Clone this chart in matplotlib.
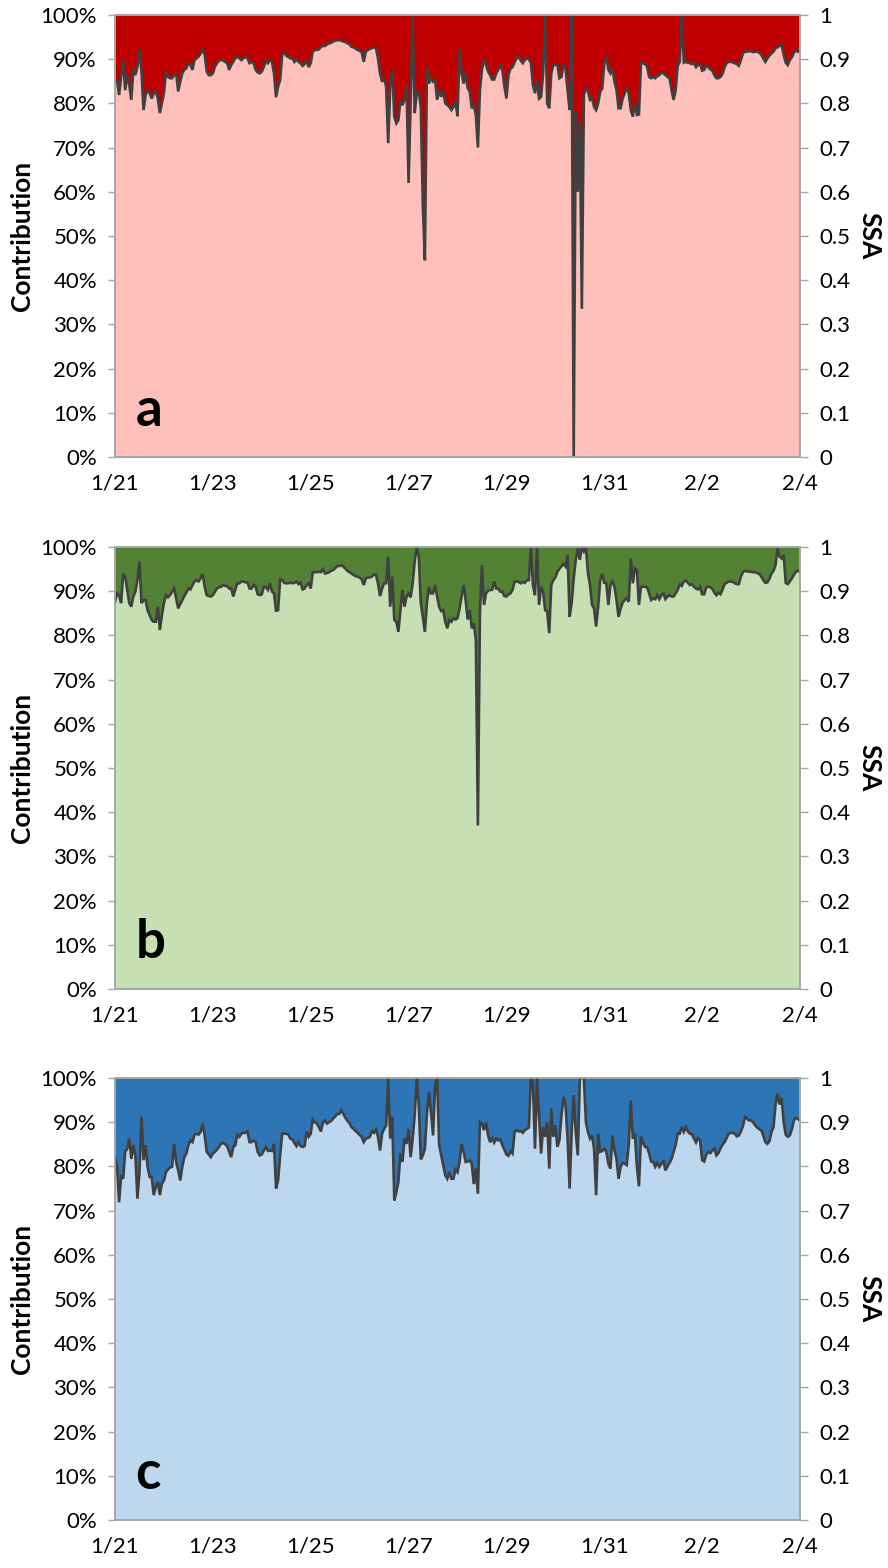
import numpy as np
import matplotlib
matplotlib.use("Agg")
import matplotlib.pyplot as plt
from matplotlib.ticker import PercentFormatter, FixedLocator

# Hourly SSA values from 1/21 00:00 to 2/4 00:00 (one row per day)
ssa_a = [
    .849, .853, .819, .860, .898, .830, .864, .842, .808, .876, .864, .883, .921, .872, .785, .819, .830, .823, .811, .823, .827, .811, .778, .800,
    .823, .872, .860, .857, .857, .864, .868, .827, .849, .868, .876, .879, .891, .887, .876, .898, .902, .906, .913, .922, .910, .872, .864, .864,
    .868, .883, .891, .897, .898, .898, .894, .891, .876, .887, .894, .902, .906, .902, .898, .902, .906, .902, .891, .894, .891, .876, .870, .868,
    .872, .883, .897, .891, .898, .894, .868, .814, .838, .853, .910, .915, .908, .905, .902, .902, .894, .900, .894, .891, .885, .889, .898, .882,
    .891, .917, .921, .921, .922, .928, .930, .930, .934, .936, .937, .940, .942, .943, .943, .942, .940, .939, .936, .934, .928, .927, .924, .921,
    .919, .916, .894, .917, .921, .923, .925, .927, .925, .902, .868, .849, .857, .838, .710, .838, .876, .770, .755, .762, .808, .796, .808, .842,
    .620, .800, 1.00, .778, .823, .827, .792, .570, .445, .879, .845, .857, .849, .853, .808, .830, .815, .827, .800, .796, .792, .785, .792, .804,
    .771, .921, .868, .845, .868, .834, .827, .789, .796, .774, .700, .830, .876, .900, .887, .872, .864, .854, .854, .868, .876, .885, .876, .839,
    .811, .864, .879, .882, .893, .902, .906, .897, .891, .898, .902, .900, .892, .842, .823, .853, .811, .815, .868, 1.00, .800, .789, .868, .887,
    .887, .887, .857, .860, .887, .879, .830, .785, 1.00, 0.00, .780, .600, .760, .335, .820, .834, .827, .808, .811, .792, .785, .800, .827, .834,
    .891, .906, .876, .868, .879, .849, .830, .789, .789, .811, .823, .836, .823, .785, .770, .800, .774, .775, .891, .891, .889, .883, .860, .857,
    .860, .857, .862, .864, .870, .868, .864, .860, .857, .830, .808, .830, .885, .894, 1.00, .892, .894, .892, .891, .889, .891, .882, .887, .889,
    .874, .876, .885, .882, .877, .874, .864, .857, .857, .860, .867, .882, .891, .894, .894, .893, .891, .889, .885, .898, .913, .917, .917, .918,
    .918, .916, .917, .917, .915, .910, .902, .894, .902, .908, .913, .917, .925, .927, .930, .932, .910, .892, .887, .898, .904, .915, .919, .917,
    .919,
]

ssa_b = [
    .876, .895, .891, .873, .940, .933, .903, .873, .865, .888, .899, .925, .967, .873, .880, .880, .857, .846, .835, .831, .831, .865, .812, .846,
    .873, .891, .886, .891, .899, .906, .884, .861, .871, .880, .889, .897, .906, .904, .914, .922, .925, .922, .929, .939, .910, .891, .889, .888,
    .891, .899, .906, .909, .910, .914, .912, .912, .906, .906, .888, .904, .918, .918, .922, .922, .920, .920, .906, .906, .914, .910, .893, .891,
    .893, .910, .909, .903, .918, .899, .895, .856, .857, .927, .925, .919, .918, .918, .919, .918, .919, .922, .916, .920, .904, .906, .914, .918,
    .906, .943, .943, .943, .944, .943, .950, .940, .941, .943, .946, .948, .952, .957, .957, .959, .956, .951, .946, .943, .940, .937, .934, .933,
    .931, .927, .914, .929, .931, .931, .933, .938, .937, .918, .889, .906, .918, .918, .978, .865, .933, .835, .831, .808, .857, .903, .865, .888,
    .895, .886, .918, .967, 1.00, .978, .873, .842, .808, .873, .910, .895, .895, .914, .888, .865, .855, .857, .831, .816, .835, .831, .839, .836,
    .839, .861, .888, .914, .880, .836, .857, .816, .827, .790, .370, .850, .959, .869, .895, .901, .903, .903, .922, .906, .906, .899, .899, .889,
    .888, .893, .895, .903, .922, .922, .921, .918, .921, .919, .925, .925, 1.00, .914, .891, 1.00, .869, .910, .899, .857, .854, .805, .914, .925,
    .931, .944, .951, .956, .962, .956, .982, .842, .873, .929, .971, .997, .971, 1.00, .990, 1.00, .940, .914, .869, .861, .820, .865, .925, .940,
    .919, .918, .869, .914, .922, .910, .880, .842, .861, .874, .880, .884, .876, .974, .918, .952, .948, .869, .910, .910, .910, .909, .895, .880,
    .884, .882, .891, .882, .891, .895, .882, .888, .891, .888, .888, .895, .903, .916, .912, .922, .924, .919, .914, .916, .910, .906, .904, .910,
    .893, .893, .909, .910, .909, .905, .897, .891, .897, .893, .904, .916, .919, .922, .922, .921, .918, .916, .916, .933, .943, .946, .945, .944,
    .944, .943, .943, .941, .939, .933, .925, .919, .920, .928, .940, .946, .959, .997, .978, .974, .982, .919, .916, .922, .929, .937, .944, .946,
    .944,
]

ssa_c = [
    .821, .802, .719, .780, .772, .833, .840, .863, .817, .848, .825, .727, .787, .912, .814, .848, .799, .776, .776, .735, .753, .765, .735, .761,
    .768, .787, .793, .798, .799, .851, .810, .791, .768, .799, .821, .829, .848, .859, .855, .872, .874, .872, .878, .897, .870, .833, .827, .821,
    .829, .833, .838, .844, .851, .854, .850, .846, .833, .821, .844, .848, .872, .867, .874, .876, .876, .879, .855, .855, .859, .855, .833, .825,
    .827, .836, .844, .835, .836, .835, .851, .750, .768, .825, .874, .874, .874, .872, .863, .861, .853, .846, .855, .846, .844, .846, .879, .867,
    .874, .906, .900, .897, .889, .879, .899, .904, .897, .900, .903, .908, .913, .919, .919, .927, .919, .910, .903, .898, .889, .885, .880, .876,
    .871, .867, .855, .863, .864, .867, .880, .876, .884, .867, .836, .874, .885, .893, 1.00, .863, .912, .723, .742, .765, .829, .810, .863, .851,
    .885, .821, .863, .916, 1.00, .940, .816, .825, .840, .919, .968, .923, .870, .983, 1.00, .848, .825, .802, .780, .772, .787, .772, .772, .793,
    .787, .810, .851, .833, .810, .811, .814, .806, .760, .795, .738, .900, .897, .882, .900, .870, .855, .864, .854, .863, .859, .861, .848, .838,
    .827, .824, .834, .829, .878, .882, .879, .880, .876, .882, .885, .888, 1.00, .990, .840, 1.00, .916, .829, .889, .867, .900, .795, .931, .867,
    .893, .844, .859, .916, .957, .938, .863, .750, .878, .961, .878, .825, 1.00, 1.00, 1.00, .900, .878, .863, .870, .840, .735, .874, .833, .835,
    .840, .833, .806, .795, .870, .836, .817, .772, .799, .808, .806, .803, .850, .949, .863, .874, .800, .755, .867, .853, .844, .843, .829, .811,
    .810, .799, .808, .799, .806, .814, .791, .800, .808, .817, .833, .848, .874, .874, .889, .878, .889, .879, .874, .873, .863, .854, .864, .859,
    .814, .811, .826, .833, .830, .836, .840, .825, .830, .841, .849, .855, .864, .874, .876, .876, .874, .868, .870, .879, .891, .912, .908, .904,
    .904, .900, .893, .888, .884, .882, .870, .855, .851, .857, .878, .889, .940, .965, .940, .955, .900, .872, .867, .870, .884, .904, .910, .908,
    .904,
]

date_labels = ["1/21", "1/23", "1/25", "1/27", "1/29", "1/31", "2/2", "2/4"]
ssa_tick_labels = ["0", "0.1", "0.2", "0.3", "0.4", "0.5", "0.6", "0.7", "0.8", "0.9", "1"]
panel_letters = ["a", "b", "c"]
panel_colors = [("#FFBFBA", "#C00000"), ("#C6E0B4", "#548235"), ("#BDD7EE", "#2E75B6")]

plt.rcParams["font.family"] = ["Lato", "DejaVu Sans"]

W, H = 888, 1568
fig = plt.figure(figsize=(W / 100, H / 100), dpi=100)
fig.patch.set_facecolor("white")

panel_boxes = [(115, 15, 800, 457), (115, 547, 800, 989), (115, 1078, 800, 1520)]
spine_col = "#A6A6A6"
text_col = "black"
line_col = "#404040"

for series, letter, (light, dark), (x0, y0, x1, y1) in zip(
        [ssa_a, ssa_b, ssa_c], panel_letters, panel_colors, panel_boxes):
    vals = np.array(series, dtype=float)
    assert len(vals) == 337, len(vals)
    days = np.arange(len(vals)) / 24.0

    ax = fig.add_axes([x0 / W, 1 - y1 / H, (x1 - x0) / W, (y1 - y0) / H])
    ax.stackplot(days, vals, 1 - vals, colors=[light, dark], linewidth=0,
                 antialiased=True)
    ax.set_xlim(0, 14)
    ax.set_ylim(0, 1)
    ax.yaxis.set_major_locator(FixedLocator(np.linspace(0, 1, 11)))
    ax.yaxis.set_major_formatter(PercentFormatter(1.0, decimals=0))
    ax.xaxis.set_major_locator(FixedLocator(np.arange(0, 15, 2)))
    ax.set_xticklabels(date_labels)
    ax.tick_params(axis="both", labelsize=16, colors=spine_col, labelcolor=text_col,
                   width=1, direction="out")
    ax.tick_params(axis="x", length=0, pad=12)
    ax.tick_params(axis="y", length=5, pad=8)
    for s in ax.spines.values():
        s.set_color(spine_col)
        s.set_linewidth(1.2)
    ax.set_ylabel("Contribution", fontsize=19, fontweight="bold", va="center")
    ax.yaxis.set_label_coords(-0.136, 0.5)
    ax.text(0.03, 0.05, letter, transform=ax.transAxes, fontsize=38,
            fontweight="bold", ha="left", va="bottom", color="black")

    ax2 = ax.twinx()
    ax2.plot(days, vals, color=line_col, lw=1.9, solid_joinstyle="miter")
    ax2.set_ylim(0, 1)
    ax2.yaxis.set_major_locator(FixedLocator(np.linspace(0, 1, 11)))
    ax2.set_yticklabels(ssa_tick_labels)
    ax2.tick_params(axis="y", labelsize=16, colors=spine_col, labelcolor=text_col,
                    length=6, width=1, direction="out", pad=8)
    for s in ax2.spines.values():
        s.set_color(spine_col)
        s.set_linewidth(1.2)
    ax2.set_ylabel("SSA", fontsize=19, fontweight="bold", rotation=270, va="center")
    ax2.yaxis.set_label_coords(1.102, 0.5)

fig.savefig("out.png", dpi=100, facecolor="white")
